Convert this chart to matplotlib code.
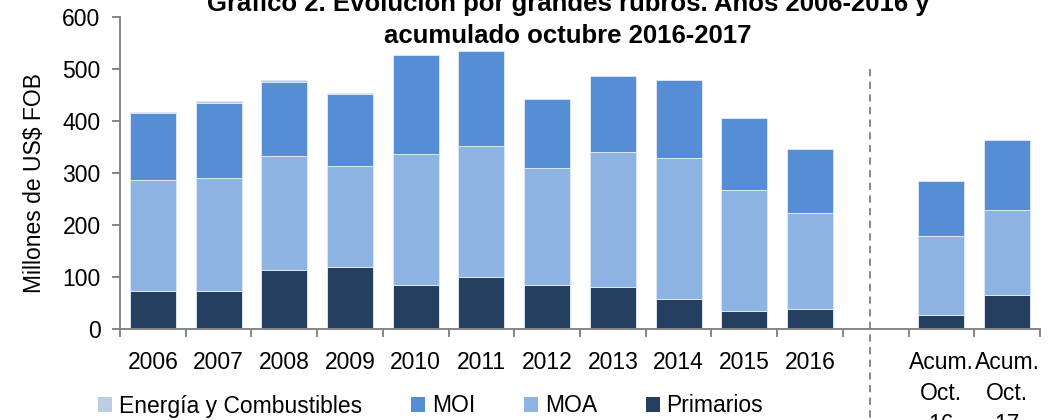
import matplotlib
matplotlib.use("Agg")
import matplotlib.pyplot as plt
from matplotlib.patches import Patch
import numpy as np

plt.rcParams['font.family'] = ['Liberation Sans', 'DejaVu Sans']

# ---- data ----
categories = ["2006", "2007", "2008", "2009", "2010", "2011", "2012", "2013",
              "2014", "2015", "2016", "", "Acum.\nOct.\n16", "Acum.\nOct.\n17"]
primarios = [74, 74, 113, 120, 85, 100, 85, 81, 58, 35, 39, np.nan, 27, 66]
moa = [212, 216, 220, 193, 251, 252, 224, 259, 270, 232, 185, np.nan, 151, 162]
moi = [130, 145, 142, 139, 191, 183, 134, 146, 150, 138, 123, np.nan, 107, 135]
energia = [1, 4, 4, 1, 0, 0, 0, 0, 0, 0, 0, np.nan, 0, 0]
series_names = ["Primarios", "MOA", "MOI", "Energía y Combustibles"]
yticks = [0, 100, 200, 300, 400, 500, 600]
title = "Gráfico 2. Evolución por grandes rubros. Años 2006-2016 y\nacumulado octubre 2016-2017"
ylabel = "Millones de US$ FOB"

colors = {"Primarios": "#243F60", "MOA": "#8EB4E3", "MOI": "#558ED5",
          "Energía y Combustibles": "#B9CDE5"}

W, H = 1049, 420
fig = plt.figure(figsize=(W / 100, H / 100), dpi=100)
ax = fig.add_axes([120 / W, 91 / H, 920 / W, 312 / H])

x = np.arange(len(categories))
bottom = np.zeros(len(categories))
for name, vals in zip(series_names, [primarios, moa, moi, energia]):
    v = np.nan_to_num(np.array(vals, dtype=float))
    ax.bar(x, v, width=0.7, bottom=bottom, color=colors[name],
           edgecolor="#DCE6F2", linewidth=0.7, zorder=2)
    bottom += v

ax.set_xlim(-0.5, len(categories) - 0.5)
ax.set_ylim(0, 600)
ax.set_yticks(yticks)
ax.set_yticklabels([str(t) for t in yticks], fontsize=16.5)

gray = "#868686"
for s in ["top", "right"]:
    ax.spines[s].set_visible(False)
for s in ["left", "bottom"]:
    ax.spines[s].set_color(gray)
    ax.spines[s].set_linewidth(1.4)

ax.tick_params(axis="y", direction="out", length=6, width=1.4, color=gray, pad=8)
ax.set_xticks(x)
ax.set_xticklabels(categories, fontsize=16.5, linespacing=1.45)
ax.tick_params(axis="x", which="major", length=0, pad=16)
ax.set_xticks(np.arange(-0.5, len(categories), 1.0), minor=True)
ax.tick_params(axis="x", which="minor", direction="out", length=6, width=1.4, color=gray)

# separator between annual and cumulative data
ax.plot([10.92, 10.92], [500, -175], ls=(0, (4, 3)), color="#7F7F7F", lw=1.3,
        clip_on=False, zorder=3)

fig.text(35 / W, 1 - 183 / H, ylabel, rotation=90, ha="center", va="center", fontsize=16.5)
fig.text(568 / W, 1 - 20 / H, title, ha="center", va="center", fontsize=18.5,
         fontweight="bold", linespacing=1.45)

order = ["Energía y Combustibles", "MOI", "MOA", "Primarios"]
handles = [Patch(facecolor=colors[n], edgecolor="none") for n in order]
fig.legend(handles, order, loc="center left", bbox_to_anchor=(98 / W, 1 - 406 / H),
           ncol=4, frameon=False, fontsize=16.5, handlelength=0.62, handleheight=0.62,
           handletextpad=0.3, columnspacing=2.12, borderpad=0, borderaxespad=0)

fig.savefig("out.png", dpi=100)
